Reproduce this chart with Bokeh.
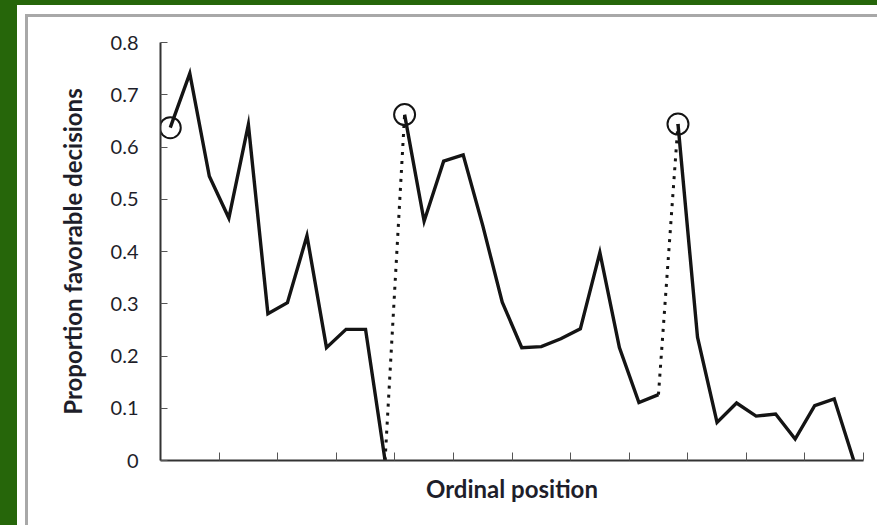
from bokeh.plotting import figure
from bokeh.models import FixedTicker, Range1d
from bokeh.embed import file_html
from bokeh.resources import INLINE

# ---- data (ordinal position, proportion favorable decisions) ----
seg1_pos = [1, 2, 3, 4, 5, 6, 7, 8, 9, 10, 11, 12]
seg1_val = [0.637, 0.741, 0.544, 0.464, 0.643, 0.281, 0.302, 0.430, 0.216, 0.251, 0.251, 0.0]

seg2_pos = [13, 14, 15, 16, 17, 18, 19, 20, 21, 22, 23, 24, 25, 26]
seg2_val = [0.662, 0.458, 0.573, 0.585, 0.450, 0.303, 0.216, 0.218, 0.233, 0.252, 0.398, 0.216, 0.111, 0.126]

seg3_pos = [27, 28, 29, 30, 31, 32, 33, 34, 35, 36]
seg3_val = [0.644, 0.236, 0.073, 0.110, 0.085, 0.089, 0.041, 0.105, 0.118, 0.0]

y_ticks = [0, 0.1, 0.2, 0.3, 0.4, 0.5, 0.6, 0.7, 0.8]
y_tick_labels = ["0", "0.1", "0.2", "0.3", "0.4", "0.5", "0.6", "0.7", "0.8"]
x_ticks = [3, 6, 9, 12, 15, 18, 21, 24, 27, 30, 33, 36]

y_title = "Proportion favorable decisions"
x_title = "Ordinal position"

GREEN = "#26660a"
INK = "#141414"
TEXT = "#1e1e2a"
FONT = "Lato"


def xs(pos):
    # each ordinal position occupies one slot; draw at slot centre
    return [p - 0.5 for p in pos]


p = figure(width=860, height=520, output_backend="svg", toolbar_location=None,
           x_range=Range1d(0, 36), y_range=Range1d(0, 0.8),
           min_border_left=143, min_border_right=14, min_border_top=37,
           min_border_bottom=65)
p.margin = (5, 0, 0, 17)
p.styles = {"background-color": "white"}
p.background_fill_color = "white"
p.border_fill_color = "white"
p.outline_line_color = None
p.xgrid.visible = False
p.ygrid.visible = False

# dotted connectors between sessions
p.line([xs(seg1_pos)[-1], xs(seg2_pos)[0]], [seg1_val[-1], seg2_val[0]],
       line_color=INK, line_width=3, line_dash="3 6", line_cap="butt")
p.line([xs(seg2_pos)[-1], xs(seg3_pos)[0]], [seg2_val[-1], seg3_val[0]],
       line_color=INK, line_width=3, line_dash="3 6", line_cap="butt")

# solid session lines
for pos, val in ((seg1_pos, seg1_val), (seg2_pos, seg2_val), (seg3_pos, seg3_val)):
    p.line(xs(pos), val, line_color=INK, line_width=3.4, line_join="miter")

# circles at first decision of each session
p.scatter([xs(seg1_pos)[0], xs(seg2_pos)[0], xs(seg3_pos)[0]],
          [seg1_val[0], seg2_val[0], seg3_val[0]],
          marker="circle", size=21, fill_color=None, line_color=INK, line_width=2)

# axes
yax = p.yaxis[0]
yax.ticker = FixedTicker(ticks=y_ticks)
yax.major_label_overrides = dict(zip(y_ticks, y_tick_labels))
yax.minor_tick_line_color = None
yax.major_tick_in = 7
yax.major_tick_out = 0
yax.major_tick_line_color = "#555555"
yax.axis_line_color = "#333333"
yax.axis_line_width = 2
yax.major_label_standoff = 22
yax.major_label_text_font = FONT
yax.major_label_text_font_size = "20px"
yax.major_label_text_color = TEXT
yax.axis_label = y_title
yax.axis_label_text_font = FONT
yax.axis_label_text_font_style = "bold"
yax.axis_label_text_font_size = "24px"
yax.axis_label_text_color = TEXT
yax.axis_label_standoff = 21

xax = p.xaxis[0]
xax.ticker = FixedTicker(ticks=x_ticks)
xax.major_label_overrides = {t: "" for t in x_ticks}
xax.minor_tick_line_color = None
xax.major_tick_in = 8
xax.major_tick_out = 0
xax.major_tick_line_color = "#555555"
xax.axis_line_color = "#333333"
xax.axis_line_width = 2
xax.major_label_text_font_size = "1px"
xax.major_label_standoff = 0
xax.axis_label = x_title
xax.axis_label_text_font = FONT
xax.axis_label_text_font_style = "bold"
xax.axis_label_text_font_size = "24px"
xax.axis_label_text_color = TEXT
xax.axis_label_standoff = 13

html = file_html(p, INLINE)
css = ("<style>html,body{background-color:%s !important;}"
       "body::after{content:'';position:fixed;left:25px;top:14px;width:1200px;height:900px;"
       "border-left:3px solid #a8a8a8;border-top:3px solid #a8a8a8;"
       "pointer-events:none;z-index:1000;}</style>" % GREEN)
i = html.rfind("</head>")
if i >= 0:
    html = html[:i] + css + html[i:]
open("out.html", "w").write(html)
